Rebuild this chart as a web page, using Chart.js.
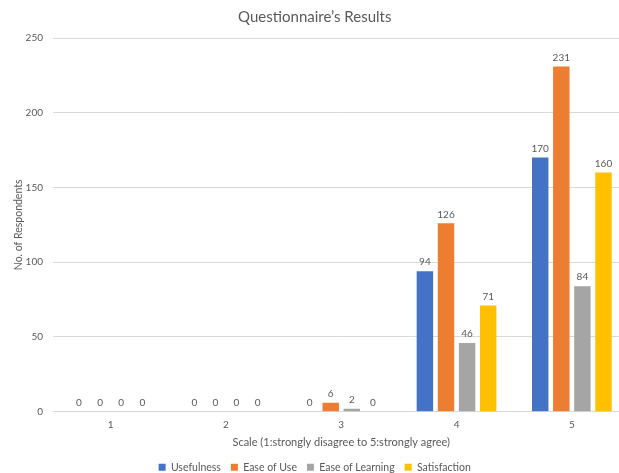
<!DOCTYPE html>
<html>
<head>
<meta charset="utf-8">
<script src="https://cdn.jsdelivr.net/npm/chart.js@4"></script>
<style>
  html, body { margin: 0; padding: 0; background: #fff; overflow: hidden; }
  #wrap { width: 640px; height: 473px; }
</style>
</head>
<body>
<div id="wrap"><canvas id="myChart" width="640" height="473"></canvas></div>
<script>
// 데이터
var categories = ['1', '2', '3', '4', '5'];
var usefulness = [0, 0, 0, 94, 170];
var easeOfUse = [0, 0, 6, 126, 231];
var easeOfLearning = [0, 0, 2, 46, 84];
var satisfaction = [0, 0, 0, 71, 160];
var yTicks = [0, 50, 100, 150, 200, 250];

var textColor = '#595959';
var fontFamily = 'Lato, "Open Sans", sans-serif';

// 막대 위에 값 표시
var valueLabels = {
    id: 'valueLabels',
    afterDatasetsDraw: function(chart) {
        var ctx = chart.ctx;
        ctx.save();
        ctx.font = '10px ' + fontFamily;
        ctx.fillStyle = textColor;
        ctx.textAlign = 'center';
        ctx.textBaseline = 'bottom';
        chart.data.datasets.forEach(function(ds, i) {
            var meta = chart.getDatasetMeta(i);
            meta.data.forEach(function(bar, j) {
                ctx.fillText(ds.data[j], bar.x, bar.y - 4);
            });
        });
        ctx.restore();
    }
};

window.onload = function() {
    var ctx = document.getElementById('myChart').getContext('2d');
    var myChart = new Chart(ctx, {
        type: 'bar',
        data: {
            labels: categories,
            datasets: [
                { label: 'Usefulness', data: usefulness, backgroundColor: '#4472C4' },
                { label: 'Ease of Use', data: easeOfUse, backgroundColor: '#ED7D31' },
                { label: 'Ease of Learning', data: easeOfLearning, backgroundColor: '#A5A5A5' },
                { label: 'Satisfaction', data: satisfaction, backgroundColor: '#FFC000' }
            ]
        },
        options: {
            responsive: false,
            animation: false,
            categoryPercentage: 0.732,
            barPercentage: 0.78,
            layout: { padding: { left: 0, right: 10.5, top: 0, bottom: 0 } },
            plugins: {
                title: {
                    display: true,
                    text: 'Questionnaire\u2019s Results',
                    color: textColor,
                    font: { family: fontFamily, size: 15, weight: 'normal' },
                    padding: { top: 8, bottom: 12 }
                },
                legend: {
                    position: 'bottom',
                    maxHeight: 21,
                    labels: {
                        color: textColor,
                        font: { family: fontFamily, size: 10.5 },
                        boxWidth: 7,
                        boxHeight: 7,
                        padding: 10
                    }
                },
                tooltip: { enabled: false }
            },
            scales: {
                x: {
                    afterFit: function(scale) { scale.height = 40.3; },
                    grid: { display: false, drawTicks: false },
                    border: { color: '#d9d9d9' },
                    ticks: { color: textColor, font: { family: fontFamily, size: 10 }, padding: 7 },
                    title: {
                        display: true,
                        text: 'Scale (1:strongly disagree to 5:strongly agree)',
                        color: textColor,
                        font: { family: fontFamily, size: 11 },
                        padding: { top: 2, bottom: 3 }
                    }
                },
                y: {
                    min: 0,
                    max: 250,
                    afterBuildTicks: function(scale) {
                        scale.ticks = yTicks.map(function(v) { return { value: v }; });
                    },
                    afterFit: function(scale) { scale.width = 53; },
                    grid: { color: '#d9d9d9', drawTicks: false },
                    border: { display: false },
                    ticks: { color: textColor, font: { family: fontFamily, size: 10 }, padding: 10 },
                    title: {
                        display: true,
                        text: 'No. of Respondents',
                        color: textColor,
                        font: { family: fontFamily, size: 10.5 },
                        padding: { top: 12, bottom: 0 }
                    }
                }
            }
        },
        plugins: [valueLabels]
    });
};
</script>
</body>
</html>
